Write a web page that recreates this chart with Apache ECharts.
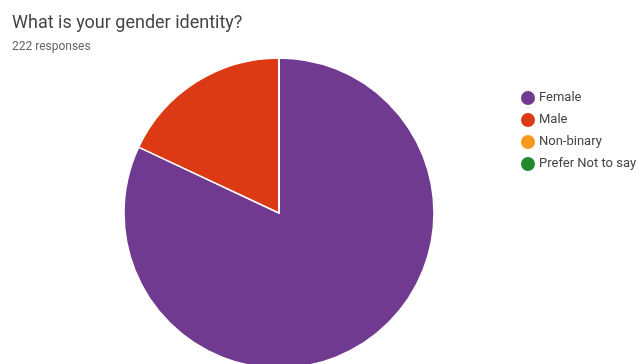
<!DOCTYPE html>
<html>
<head>
<meta charset="utf-8">
<script src="https://cdn.jsdelivr.net/npm/echarts@6/dist/echarts.min.js"></script>
<style>
  html, body { margin: 0; padding: 0; background: #fff; }
  #chart { width: 642px; height: 364px; }
</style>
</head>
<body>
<div id="chart"></div>
<script>
// Survey answers: gender identity
const categories = ['Female', 'Male', 'Non-binary', 'Prefer Not to say'];
const counts = [182, 40, 0, 0];
const colors = ['#713a91', '#db3a14', '#f59a1e', '#1f8a2e'];

const chart = echarts.init(document.getElementById('chart'), null, { renderer: 'canvas' });

chart.setOption({
  animation: false,
  color: colors,
  title: {
    text: 'What is your gender identity?',
    subtext: '222 responses',
    left: 7,
    top: 9,
    itemGap: 9,
    textStyle: { fontFamily: 'Roboto', fontSize: 18, fontWeight: 'normal', color: '#444' },
    subtextStyle: { fontFamily: 'Roboto', fontSize: 12, color: '#666' }
  },
  legend: {
    orient: 'vertical',
    left: 514,
    top: 84,
    icon: 'circle',
    itemWidth: 16,
    itemHeight: 16,
    itemGap: 4,
    textStyle: { fontFamily: 'Roboto', fontSize: 13, color: '#444', padding: [0, 0, 0, -2] },
    data: categories
  },
  series: [{
    type: 'pie',
    center: [279, 213],
    radius: 155,
    startAngle: 90,
    clockwise: true,
    label: { show: false },
    labelLine: { show: false },
    emphasis: { disabled: true },
    itemStyle: { borderColor: '#fff', borderWidth: 1.5 },
    data: categories.map((name, i) => ({ name, value: counts[i] }))
  }]
});
</script>
</body>
</html>
